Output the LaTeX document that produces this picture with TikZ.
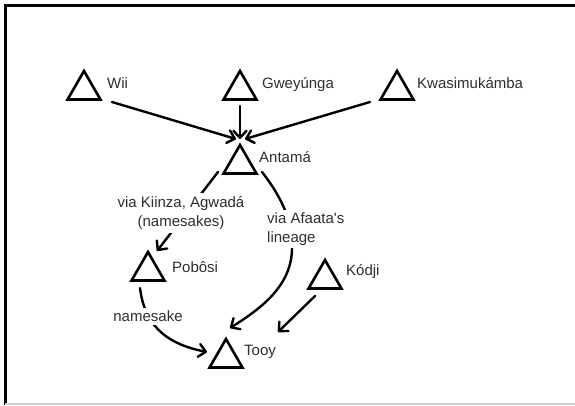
\documentclass[tikz,border=0pt]{standalone}
\usepackage{fontspec}
\setmainfont{Liberation Sans}
\usetikzlibrary{shapes.geometric,arrows.meta}
\definecolor{txt}{HTML}{2E2E2E}
\tikzset{
  tri/.style={regular polygon, regular polygon sides=3, draw, line width=2.6pt,
    minimum size=38pt, inner sep=0pt, outer sep=0pt},
  lbl/.style={anchor=base west, inner sep=0pt, text=txt, font=\fontsize{15}{19}\selectfont},
  conn/.style={line width=2.4pt, line cap=round, line join=round,
    -{Straight Barb[length=7pt,width=13pt,line cap=round,line join=round]}},
  edgelbl/.style={fill=white, text=txt, font=\fontsize{15}{19}\selectfont,
    inner xsep=2pt, inner ysep=3pt},
  frame/.style={line width=2.5pt, black}
}
\begin{document}
\begin{tikzpicture}[x=1pt,y=-1pt]
\useasboundingbox (0,0) rectangle (575,405);
% frame
\coordinate (ftl) at (5.3,5.5);
\coordinate (ftr) at (575,5.5);
\coordinate (fbl) at (5.3,405);
\coordinate (fbr) at (575,404);
\coordinate (fbl2) at (5.3,404);
\draw[frame] (ftr) -- (ftl) -- (fbl);
\draw[line width=1.5pt, black!18] (fbl2) -- (fbr);

% triangles
\node[tri] (wii) at (84,90) {};
\node[tri] (gwe) at (240,90) {};
\node[tri] (kwa) at (397,90) {};
\node[tri] (ant) at (240,164) {};
\node[tri] (pob) at (148,271) {};
\node[tri] (kod) at (325,279) {};
\node[tri] (tooy) at (226,358) {};

% names
\node[lbl] (wiiL) at (107,88) {Wii};
\node[lbl] (gweL) at (262,88) {Gweyúnga};
\node[lbl] (kwaL) at (417,88) {Kwasimukámba};
\node[lbl] (antL) at (259,162) {Antamá};
\node[lbl] (pobL) at (172,272) {Pobôsi};
\node[lbl] (kodL) at (346,275) {Kódji};
\node[lbl] (tooyL) at (244,355) {Tooy};

% arrows into Antama
\draw[conn] ([shift={(28,12)}]wii.center) -- ([shift={(-4,-25)}]ant.center);
\draw[conn] ([shift={(0,16)}]gwe.center) -- ([shift={(0,-25)}]ant.center);
\draw[conn] ([shift={(-27,12)}]kwa.center) -- ([shift={(5,-25)}]ant.center);

% Antama -> Pobosi
\draw[conn] ([shift={(-22,8)}]ant.center) -- ([shift={(9,-20)}]pob.center);
\node[edgelbl, align=center] (kiinza) at (181,213) {via Kiinza, Agwadá\\(namesakes)};

% Antama -> Tooy via Afaata
\draw[conn] ([shift={(22,8)}]ant.center) .. controls (280,195) and (293,220) .. (292,248)
   .. controls (292,285) and (262,308) .. ([shift={(4,-30)}]tooy.center);
\node[edgelbl, align=left, anchor=west] (afaata) at (265,229) {via Afaata\textquotesingle s\\lineage};

% Kodji -> Tooy
\draw[conn] ([shift={(-10,17)}]kod.center) -- ([shift={(52,-26)}]tooy.center);

% Pobosi -> Tooy (namesake)
\draw[conn] ([shift={(-8,17)}]pob.center) .. controls (145,330) and (172,345) .. ([shift={(-19,-6)}]tooy.center);
\node[edgelbl] (names) at (148,316) {namesake};
\end{tikzpicture}
\end{document}
